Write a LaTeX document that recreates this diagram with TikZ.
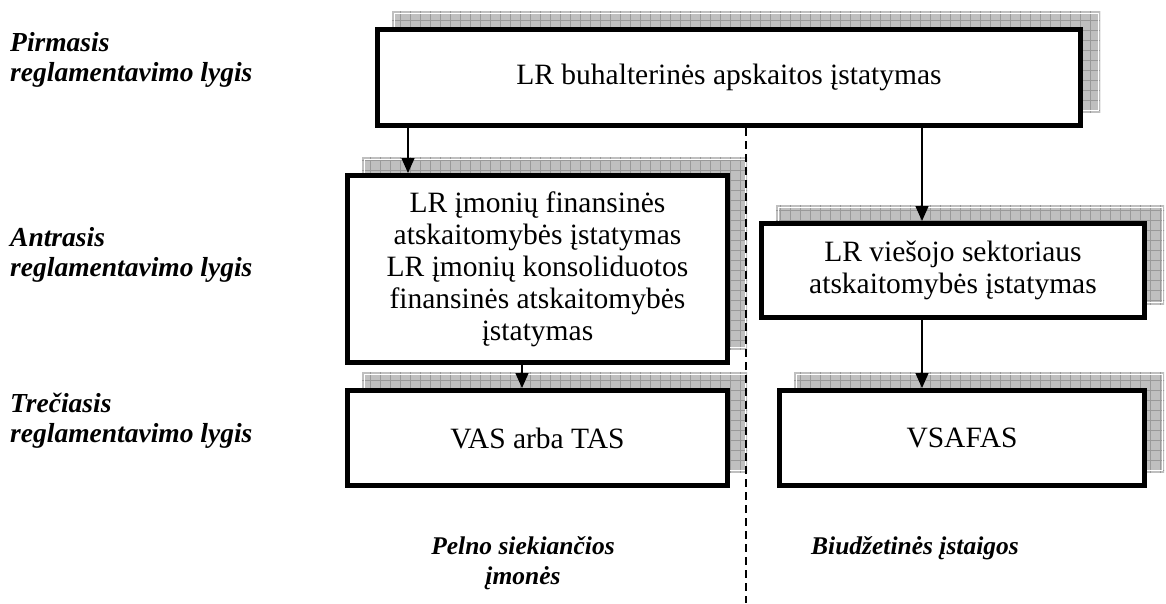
\documentclass[tikz,border=0pt]{standalone}
\usepackage{fontspec}
\setmainfont{Liberation Serif}
\usetikzlibrary{arrows.meta,positioning,calc,backgrounds}
\tikzset{
  lawbox/.style={draw, line width=5pt, fill=white, align=center, inner sep=2pt,
                 font=\fontsize{29.5}{32}\selectfont},
  lvlabel/.style={anchor=west, align=left, inner sep=0pt,
                 font=\fontsize{27.5}{30}\selectfont\bfseries\itshape},
  grplabel/.style={align=center, inner sep=0pt,
                 font=\fontsize{25.5}{30}\selectfont\bfseries\itshape},
  flow/.style={-{Triangle[length=15pt,width=13pt]}, line width=1.5pt},
  divider/.style={line width=1.5pt, dash pattern=on 8pt off 5pt},
}
% gray hatched shadow behind a box
\newcommand{\boxshadow}[1]{%
  \begin{pgfonlayer}{background}
    \begin{scope}
      \clip ($(#1.south west)+(17,-16)$) rectangle ($(#1.north east)+(17,-16)$);
      \fill[gray!50] ($(#1.south west)+(14,-13)$) rectangle ($(#1.north east)+(20,-19)$);
      \draw[gray!80, line width=0.6pt, step=10pt] ($(#1.south west)+(14,-13)$) grid ($(#1.north east)+(20,-19)$);
    \end{scope}
    \draw[white, line width=0.8pt] ($(#1.south west)+(19,-18)$) rectangle ($(#1.north east)+(15,-14)$);
  \end{pgfonlayer}}
\begin{document}
\begin{tikzpicture}[x=1pt, y=-1pt]
  \useasboundingbox (0,0) rectangle (1166,603);
  % boxes
  \node[lawbox, minimum width=703pt, minimum height=96pt] (top) at (729,77.5)
    {LR buhalterinės apskaitos įstatymas};
  \node[lawbox, minimum width=380pt, minimum height=187pt] (lmid) at (537.5,269)
    {LR įmonių finansinės\\ atskaitomybės įstatymas\\ LR įmonių konsoliduotos\\ finansinės atskaitomybės\\ įstatymas};
  \node[lawbox, minimum width=380pt, minimum height=95pt] (lbot) at (537.5,438)
    {VAS arba TAS};
  \node[lawbox, minimum width=383pt, minimum height=94pt] (rmid) at (953,270.5)
    {LR viešojo sektoriaus\\ atskaitomybės įstatymas};
  \node[lawbox, minimum width=365pt, minimum height=95pt] (rbot) at (962,438)
    {VSAFAS};
  \boxshadow{top}
  \boxshadow{lmid}
  \boxshadow{lbot}
  \boxshadow{rmid}
  \boxshadow{rbot}
  % level labels
  \node[lvlabel] (lv1) at (10,60) {Pirmasis\\ reglamentavimo lygis};
  \node[lvlabel] (lv2) at (10,255) {Antrasis\\ reglamentavimo lygis};
  \node[lvlabel] (lv3) at (10,421) {Trečiasis\\ reglamentavimo lygis};
  % group labels
  \node[grplabel] (grp1) at (523,563) {Pelno siekiančios\\ įmonės};
  \node[grplabel] (grp2) at (915,548) {Biudžetinės įstaigos};
  % connectors
  \coordinate (la) at (408,0);
  \coordinate (lb) at (522,0);
  \coordinate (ra) at (922,0);
  \coordinate (dv) at (746,603);
  \draw[flow] (top.south -| la) -- (lmid.north -| la);
  \draw[flow] (lmid.south -| lb) -- (lbot.north -| lb);
  \draw[flow] (top.south -| ra) -- (rmid.north -| ra);
  \draw[flow] (rmid.south -| ra) -- (rbot.north -| ra);
  \draw[divider] (top.south -| dv) -- (dv);
\end{tikzpicture}
\end{document}
